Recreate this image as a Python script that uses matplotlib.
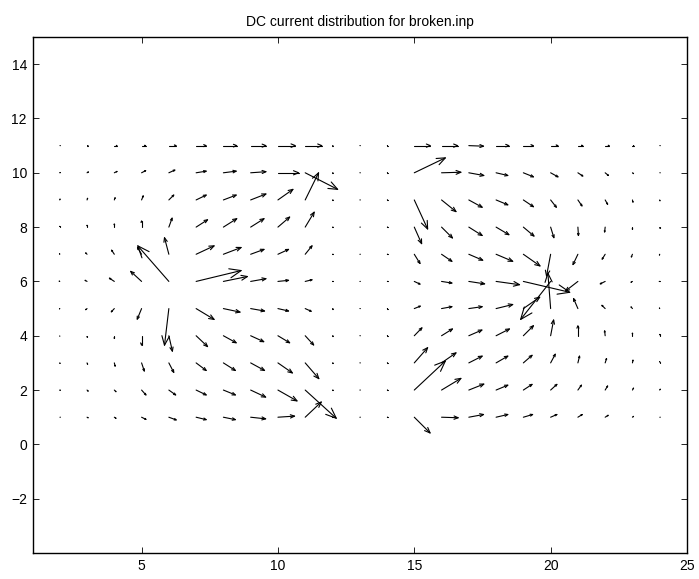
"""Quiver-style plot of the DC current distribution (MATLAB look, open V heads)."""
import matplotlib
matplotlib.use("Agg")
import matplotlib.pyplot as plt
from matplotlib.collections import LineCollection

plt.rcParams["font.family"] = ["Liberation Sans", "DejaVu Sans"]

TITLE = "DC current distribution for broken.inp"
X_NODES = list(range(2, 25))          # 23 columns
Y_NODES = list(range(11, 0, -1))      # rows from top (y=11) to bottom (y=1)
X_TICKS = [5, 10, 15, 20, 25]
Y_TICKS = [-2, 0, 2, 4, 6, 8, 10, 12, 14]

# current components, one row per y node (top row first), one entry per x node
U = [
    [0.02, 0.04, 0.10, 0.15, 0.27, 0.37, 0.49, 0.56, 0.64, 0.61, 0.02, 0.02, 0.02, 0.59, 0.59, 0.54, 0.47, 0.37, 0.27, 0.18, 0.15, 0.05, 0.02],
    [0.02, 0.05, 0.10, 0.15, 0.22, 0.37, 0.47, 0.56, 0.76, 1.19, 0.02, 0.02, 0.02, 1.14, 0.71, 0.55, 0.43, 0.37, 0.27, 0.18, 0.12, 0.04, 0.02],
    [0.01, 0.02, 0.03, 0.06, 0.18, 0.37, 0.47, 0.56, 0.55, 0.49, 0.02, 0.02, 0.02, 0.49, 0.53, 0.49, 0.43, 0.37, 0.21, 0.15, 0.09, 0.02, 0.01],
    [0.00, 0.00, 0.00, 0.00, 0.12, 0.42, 0.49, 0.49, 0.43, 0.33, 0.02, 0.02, 0.02, 0.27, 0.40, 0.49, 0.47, 0.39, 0.12, 0.02, -0.02, 0.00, 0.00],
    [-0.01, -0.05, -0.10, -0.15, -0.16, 0.66, 0.65, 0.49, 0.39, 0.25, 0.02, 0.02, 0.02, 0.21, 0.38, 0.51, 0.61, 0.61, -0.15, -0.18, -0.11, -0.04, -0.01],
    [-0.02, -0.07, -0.18, -0.40, -1.14, 1.65, 0.88, 0.56, 0.39, 0.25, 0.02, 0.02, 0.02, 0.21, 0.38, 0.58, 0.86, 1.70, -1.10, -0.45, -0.18, -0.05, -0.02],
    [-0.01, -0.05, -0.11, -0.16, -0.16, 0.66, 0.61, 0.51, 0.39, 0.22, 0.02, 0.02, 0.02, 0.22, 0.38, 0.49, 0.61, 0.60, -0.10, -0.16, -0.12, -0.05, -0.01],
    [0.00, 0.00, 0.00, 0.00, 0.13, 0.42, 0.47, 0.48, 0.43, 0.31, 0.02, 0.02, 0.02, 0.28, 0.40, 0.48, 0.49, 0.37, 0.11, 0.00, -0.02, 0.00, 0.00],
    [0.01, 0.02, 0.03, 0.10, 0.18, 0.37, 0.44, 0.51, 0.53, 0.50, 0.02, 0.02, 0.02, 0.49, 0.53, 0.49, 0.43, 0.32, 0.17, 0.06, 0.05, 0.02, 0.00],
    [0.02, 0.04, 0.06, 0.16, 0.25, 0.37, 0.44, 0.55, 0.70, 1.14, 0.02, 0.02, 0.02, 1.14, 0.71, 0.55, 0.43, 0.32, 0.23, 0.13, 0.09, 0.04, 0.02],
    [0.02, 0.04, 0.06, 0.16, 0.27, 0.37, 0.44, 0.55, 0.61, 0.59, 0.02, 0.02, 0.02, 0.58, 0.61, 0.54, 0.43, 0.34, 0.23, 0.16, 0.11, 0.04, 0.02],
]
V = [
    [0.00, 0.00, 0.00, 0.00, 0.00, 0.00, 0.00, 0.00, 0.00, 0.00, 0.00, 0.00, 0.00, 0.00, 0.00, -0.02, 0.00, 0.00, 0.00, 0.00, 0.00, 0.00, 0.00],
    [0.01, 0.03, 0.05, 0.08, 0.10, 0.06, 0.06, 0.04, 0.00, -0.61, 0.00, 0.00, 0.00, 0.55, 0.02, -0.10, -0.10, -0.15, -0.15, -0.12, -0.10, -0.03, 0.00],
    [0.03, 0.06, 0.08, 0.15, 0.18, 0.18, 0.18, 0.22, 0.39, 1.00, 0.00, 0.00, 0.00, -1.07, -0.43, -0.27, -0.18, -0.25, -0.27, -0.22, -0.16, -0.08, -0.03],
    [0.03, 0.07, 0.12, 0.23, 0.33, 0.27, 0.31, 0.31, 0.37, 0.55, 0.00, 0.00, 0.00, -0.61, -0.40, -0.31, -0.28, -0.33, -0.39, -0.31, -0.18, -0.08, -0.04],
    [0.02, 0.05, 0.15, 0.25, 0.61, 0.31, 0.25, 0.18, 0.18, 0.31, 0.00, 0.00, 0.00, -0.34, -0.26, -0.22, -0.26, -0.43, -0.80, -0.38, -0.18, -0.10, -0.03],
    [0.01, 0.04, 0.12, 0.37, 1.31, 0.40, 0.18, 0.10, 0.04, 0.06, 0.00, 0.00, 0.00, -0.10, -0.06, -0.09, -0.12, -0.40, -1.40, -0.35, -0.09, -0.03, 0.00],
    [-0.01, -0.04, -0.12, -0.39, -1.35, -0.40, -0.13, -0.09, -0.09, -0.10, 0.00, 0.00, 0.00, 0.09, 0.07, 0.07, 0.15, 0.42, 1.30, 0.37, 0.12, 0.06, 0.02],
    [-0.02, -0.05, -0.10, -0.35, -0.57, -0.40, -0.26, -0.22, -0.26, -0.34, 0.00, 0.00, 0.00, 0.29, 0.25, 0.21, 0.25, 0.37, 0.58, 0.37, 0.18, 0.10, 0.05],
    [-0.02, -0.05, -0.12, -0.30, -0.35, -0.28, -0.28, -0.28, -0.37, -0.58, 0.00, 0.00, 0.00, 0.56, 0.37, 0.25, 0.25, 0.28, 0.32, 0.25, 0.16, 0.10, 0.05],
    [-0.01, -0.04, -0.06, -0.18, -0.18, -0.18, -0.18, -0.26, -0.40, -1.04, 0.00, 0.00, 0.00, 1.07, 0.43, 0.22, 0.18, 0.21, 0.21, 0.18, 0.15, 0.07, 0.03],
    [0.00, -0.02, -0.04, -0.08, -0.10, -0.09, -0.09, -0.06, 0.04, 0.56, 0.00, 0.00, 0.00, -0.58, -0.02, 0.10, 0.10, 0.10, 0.10, 0.10, 0.07, 0.03, 0.00],
]

HEAD_LEN = 0.25    # arrow head length relative to vector length
HEAD_WIDTH = 0.4   # half width of head base relative to head length


def arrow_segments():
    segs = []
    for j, y in enumerate(Y_NODES):
        for i, x in enumerate(X_NODES):
            u, v = U[j][i], V[j][i]
            tx, ty = x + u, y + v
            segs.append([(x, y), (tx, ty)])
            segs.append([
                (tx - HEAD_LEN * (u + HEAD_WIDTH * v), ty - HEAD_LEN * (v - HEAD_WIDTH * u)),
                (tx, ty),
                (tx - HEAD_LEN * (u - HEAD_WIDTH * v), ty - HEAD_LEN * (v + HEAD_WIDTH * u)),
            ])
    return segs


fig = plt.figure(figsize=(6.99, 5.79), dpi=100)
ax = fig.add_axes([0.0465, 0.0449, 0.9363, 0.8912])

ax.add_collection(LineCollection(arrow_segments(), colors="black", linewidths=0.8,
                                 capstyle="round", joinstyle="round"))

ax.set_xlim(1, 25)
ax.set_ylim(-4, 15)
ax.set_xticks(X_TICKS)
ax.set_yticks(Y_TICKS)
ax.tick_params(direction="in", top=True, right=True, length=4, width=0.6,
               labelsize=10, pad=4)
for sp in ax.spines.values():
    sp.set_linewidth(1.0)
ax.set_title(TITLE, fontsize=10, pad=8)

fig.savefig("out.png", dpi=100)
